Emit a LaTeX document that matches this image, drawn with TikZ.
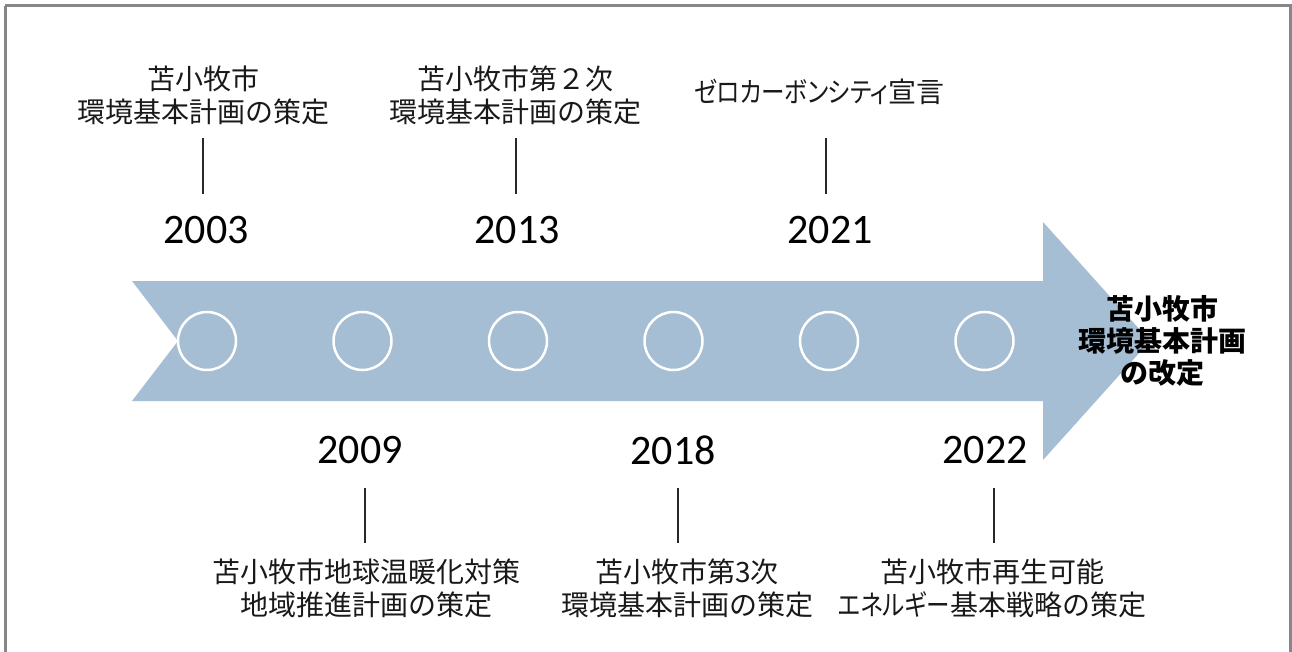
\documentclass[tikz,border=0pt]{standalone}
\usepackage{fontspec}
\setmainfont{Carlito}
\newfontfamily\jp{Noto Sans CJK JP}
\newfontfamily\jpp{Noto Sans CJK JP}[RawFeature=+palt, FakeStretch=0.84]
\definecolor{arrowblue}{RGB}{166,190,211}
\definecolor{framegray}{RGB}{135,135,135}
\definecolor{linegray}{RGB}{40,40,40}
\tikzset{
  yearlbl/.style={inner sep=0pt, font=\fontsize{42}{46}\selectfont, text=black},
  evlbl/.style={inner sep=0pt, align=center, font=\jp\fontsize{28}{33}\selectfont, text=black!90},
  goallbl/.style={inner sep=0pt, align=center, font=\jp\bfseries\fontsize{28}{32}\selectfont, text=black},
  mark circle/.style={circle, draw=white, line width=2.5pt, minimum size=58pt, inner sep=0pt},
  tick/.style={draw=linegray, line width=1.4pt}
}
\begin{document}
\begin{tikzpicture}[x=1pt,y=-1pt]
\useasboundingbox (0,0) rectangle (1292,652);
\fill[white] (0,0) rectangle (1292,652);
\draw[framegray, line width=3pt] (5,6) -- (1290,6) -- (1290,680) (5,680) -- (5,6);
% arrow
\fill[arrowblue] (132,281) -- (1043,281) -- (1043,222) -- (1150,341) -- (1043,460)
  -- (1043,401) -- (132,401) -- (178,341) -- cycle;
% circles
\foreach \i/\x in {1/207,2/362.5,3/518,4/673.5,5/829,6/984.5}
  \node[mark circle] (c\i) at (\x,341) {};
% years
\node[yearlbl] (y2003) at (206,230) {2003};
\node[yearlbl] (y2013) at (517,230) {2013};
\node[yearlbl] (y2021) at (830,230) {2021};
\node[yearlbl] (y2009) at (360,450) {2009};
\node[yearlbl] (y2018) at (673,450) {2018};
\node[yearlbl] (y2022) at (985,450) {2022};
% event texts
\node[evlbl] (e2003) at (203,95) {苫小牧市\\環境基本計画の策定};
\node[evlbl] (e2013) at (515,95) {苫小牧市第２次\\環境基本計画の策定};
\node[evlbl] (e2021) at (819,92) {{\jpp ゼロカーボンシティ}宣言};
\node[evlbl] (e2009) at (366,588) {苫小牧市地球温暖化対策\\地域推進計画の策定};
\node[evlbl] (e2018) at (687,588) {苫小牧市第3次\\環境基本計画の策定};
\node[evlbl] (e2022) at (992,588) {苫小牧市再生可能\\{\jpp エネルギー}基本戦略の策定};
\node[goallbl] (goal) at (1162,341) {苫小牧市\\環境基本計画\\の改定};
% ticks
\coordinate (t2003a) at (203,138); \coordinate (t2003b) at (203,194);
\coordinate (t2013a) at (516,138); \coordinate (t2013b) at (516,194);
\coordinate (t2021a) at (826,138); \coordinate (t2021b) at (826,194);
\coordinate (t2009a) at (365,488); \coordinate (t2009b) at (365,543);
\coordinate (t2018a) at (678,488); \coordinate (t2018b) at (678,543);
\coordinate (t2022a) at (994,488); \coordinate (t2022b) at (994,543);
\foreach \y in {2003,2013,2021,2009,2018,2022}
  \draw[tick] (t\y a) -- (t\y b);
\end{tikzpicture}
\end{document}
